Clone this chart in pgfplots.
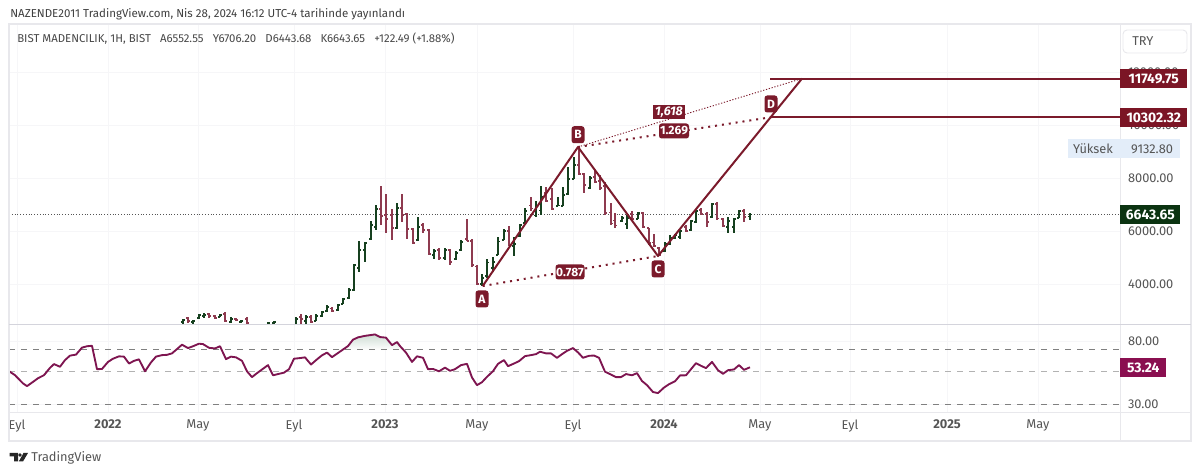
\documentclass[border=0pt]{standalone}
\usepackage{fontspec}
\setmainfont{Fira Sans}
\usepackage{pgfplots}
\usepackage{pgfplotstable}
\pgfplotsset{compat=1.18}
\definecolor{upbar}{HTML}{16401F}
\definecolor{downbar}{HTML}{8E3A4F}
\definecolor{zigzag}{HTML}{7B1A2B}
\definecolor{flagred}{HTML}{7B1525}
\definecolor{flaggreen}{HTML}{0B3311}
\definecolor{rsiline}{HTML}{7E1550}
\definecolor{rsiflag}{HTML}{8A0F50}
\definecolor{gridc}{HTML}{F6F6F8}
\definecolor{framec}{HTML}{E8E8EC}
\definecolor{sepc}{HTML}{D4D4DC}
\definecolor{labelc}{HTML}{555555}
\definecolor{highc}{HTML}{E3EDF9}
\definecolor{rsifill}{HTML}{CFDDD4}

% x is the picture's pixel column, one bar per week
% x high low open close
\pgfplotstableread{
x h l o c
183 2710 2484 2597 2672
193 2672 2522 2597 2634
199 2898 2710 2747 2860
204 2935 2747 2822 2860
220 2898 2785 2785 2860
231 2785 2559 2597 2710
241 2672 2559 2597 2634
268 2597 2371 2484 2559
274 2634 2371 2559 2597
296 2785 2440 2484 2710
306 2860 2484 2634 2785
316 2898 2634 2634 2822
322 3010 2785 2822 2973
327 3236 2973 3010 3160
338 3273 3010 3048 3236
343 3499 3273 3273 3461
349 3876 3461 3499 3800
354 4778 3763 3800 4740
359 5642 4477 4627 5304
365 5605 4853 5304 5567
371 6394 5680 5718 6245
376 6996 6056 6169 6846
397 7071 6094 6131 6883
418 6545 5642 5680 6169
434 5342 4966 5116 5266
445 5379 4928 5003 5304
456 5266 4928 4966 5191
461 5680 5266 5304 5605
482 4402 3950 4026 4250
487 4966 4251 4326 4850
493 5041 4477 4627 4853
498 5793 5116 5116 5630
504 6094 5680 5680 6018
514 5793 5078 5454 5530
520 6282 5793 5830 6244
525 6883 6319 6319 6770
536 7146 6545 6600 6990
541 7711 6620 6800 7297
558 7297 6958 6958 6990
563 7673 6958 6958 7372
568 8425 7372 7411 7974
574 8801 7974 7974 8500
590 8087 7598 7636 8012
622 6582 6357 6394 6507
627 6620 6094 6282 6507
638 6733 6470 6470 6695
665 5605 5229 5266 5530
670 5868 5492 5530 5790
675 5906 5718 5755 5868
680 6056 5718 5793 6018
691 6432 6018 6056 6394
696 6846 6319 6357 6770
712 7071 6507 6545 7034
728 6545 5943 6169 6394
734 6507 5943 6170 6470
739 6808 6507 6507 6770
750 6706.20 6443.68 6552.55 6643.65
}\upbars
\pgfplotstableread{
x h l o c
188 2785 2559 2747 2634
209 2935 2747 2898 2822
215 2860 2710 2822 2747
225 2973 2597 2898 2634
236 2747 2634 2710 2672
247 2785 2440 2710 2559
301 2898 2484 2785 2710
311 2860 2559 2785 2597
332 3160 2973 3120 3010
381 7711 6244 6846 6582
386 7410 5943 6620 6470
392 6846 5680 6620 6131
402 7410 6357 6883 6620
407 6695 5718 6658 6094
413 6131 5530 6094 5567
423 6319 5943 6244 6056
429 6094 5116 6056 5154
439 5379 4928 5304 5003
450 5342 4740 5304 4853
467 6470 5642 5718 5642
472 5718 4665 5642 4740
477 4740 3988 4700 4026
509 6206 5454 6018 5492
531 7297 6770 6990 6850
546 7673 7109 7448 7146
552 7636 6808 7222 6846
579 9177 8124 8500 8162
584 8200 7448 8162 7748
595 8275 7824 8050 7861
600 8124 7560 7898 7636
605 7861 6620 7711 6695
611 7071 6244 6700 6290
615 6695 6131 6400 6230
632 6770 6432 6658 6470
643 6733 6131 6695 6169
649 6131 5492 6131 5568
654 5906 5417 5600 5454
659 5417 5078 5379 5116
686 6244 5981 6169 6018
701 6883 6620 6808 6658
707 6733 6169 6658 6356
717 7109 6432 7034 6480
723 6507 6169 6470 6206
744 6846 6357 6770 6545
}\downbars

\pgfplotsset{
    chart/.style={
        scale only axis,
        anchor=south west,
        width=833.25pt,
        xmin=9, xmax=1120,
        axis line style={draw=none},
        major tick length=0pt,
        grid=major,
        grid style={gridc, line width=.6pt},
        xtick={17,108,198,294,385,477,573,664,760,850,947,1038},
        yticklabel pos=right,
        tick label style={font=\fontsize{9.6}{11}\selectfont, text=labelc},
        yticklabel style={anchor=west, xshift=2.5pt},
    },
    bar part/.style={draw=none, no markers, forget plot,
        error bars/error mark=none,
        error bars/error bar style={draw=#1, line width=.85pt}},
}
% right tick is the close, left tick the open
\newcommand{\ohlc}[2]{
    \addplot[bar part=#1, error bars/y dir=both, error bars/y explicit,
             error bars/x dir=plus, error bars/x fixed=2.2]
        table[x=x, y=c, y error plus expr=\thisrow{h}-\thisrow{c},
              y error minus expr=\thisrow{c}-\thisrow{l}] {#2};
    \addplot[bar part=#1, error bars/x dir=minus, error bars/x fixed=2.2]
        table[x=x, y=o] {#2};
}
\newcommand{\tagnode}[6][rounded corners=2pt]{
    \node[fill=#2, text=white, rounded corners=2pt, inner sep=0pt, minimum width=#5*.75pt, minimum height=#6*.75pt,
          font=\fontsize{9}{10}\selectfont\bfseries, #1] at (#3) {#4};
}
\newcommand{\pricetag}[4]{
    \node[fill=#1, text=white, inner sep=0pt, minimum width=#4*.75pt, minimum height=19*.75pt,
          anchor=west, font=\fontsize{10.4}{11}\selectfont\bfseries] at (1120,#2) {#3};
}

\begin{document}
\begin{tikzpicture}
\useasboundingbox (0,0) rectangle (900pt,355.5pt);

% price pane
\begin{axis}[chart,
    name=price,
    at={(6.75pt,112.5pt)},
    height=225pt,
    ymin=2522, ymax=13802,
    ytick={4000,6000,8000,10000,12000},
    xticklabels={},
    scaled y ticks=false,
    yticklabel style={
        /pgf/number format/assume math mode=true,
        /pgf/number format/fixed,
        /pgf/number format/fixed zerofill,
        /pgf/number format/precision=2,
        /pgf/number format/1000 sep={},
    },
]
\addplot[labelc, line width=.8pt, dash pattern=on .8pt off 1.3pt] coordinates {(9,6643.65) (1120,6643.65)};
\ohlc{upbar}{\upbars}
\ohlc{downbar}{\downbars}
% harmonic pattern
\addplot[zigzag, line width=1.5pt, line join=round] coordinates {
    (482.7,3950) (578,9177) (658,5078) (802,11749.75)
};
\addplot[zigzag, line width=1.5pt] coordinates {(770,11749.75) (1120,11749.75)};
\addplot[zigzag, line width=1.5pt] coordinates {(772,10302.32) (1120,10302.32)};
\addplot[zigzag, line width=1.5pt, dash pattern=on 1.5pt off 3.7pt] coordinates {(482.7,3950) (658,5078)};
\addplot[zigzag, line width=1.5pt, dash pattern=on 1.5pt off 3.7pt] coordinates {(578,9177) (772,10302.32)};
\addplot[zigzag, line width=.7pt, dash pattern=on .9pt off 1.3pt] coordinates {(578,9177) (802,11749.75)};
\end{axis}

% RSI pane, log scale like the source
\begin{axis}[chart,
    at={(6.75pt,46.5pt)},
    height=65.25pt,
    ymode=log,
    ymin=26.5, ymax=103.1,
    ytick={30,80},
    yticklabels={30.00,80.00},
    log basis y=10,
    xticklabels={Eyl,\textbf{2022},May,Eyl,\textbf{2023},May,Eyl,\textbf{2024},May,Eyl,\textbf{2025},May},
    xticklabel style={yshift=-2.5pt},
]
\addplot[draw=none, top color=rsifill, bottom color=white] coordinates {
    (342,69.7) (348,74.2) (353,82.0) (358,85.0) (365,87.0) (375,89.0) (380,85.4)
    (386,84.6) (392,75.3) (397,79.0) (400,74.2) (404,69.7)
} -- cycle;
\addplot[gray, line width=.8pt, dash pattern=on 4.5pt off 4.5pt] coordinates {(9,70) (1120,70)};
\addplot[gray!60, line width=.8pt, dash pattern=on 4.5pt off 4.5pt] coordinates {(9,50) (1120,50)};
\addplot[gray, line width=.8pt, dash pattern=on 4.5pt off 4.5pt] coordinates {(9,30) (1120,30)};
\addplot[rsiline, line width=1.4pt, line join=round] coordinates {
    (9,50.1) (15,47.1) (23,41.4) (27,39.7) (33,42.4) (38,44.9) (44,47.1) (50,52.8) (54,56.0)
    (60,53.7) (65,59.6) (70,63.9) (76,64.9) (82,72.4) (87,74.0) (92,74.5) (97,51.7) (102,51.9)
    (108,57.9) (113,60.9) (119,63.2) (124,62.9) (129,56.5) (134,58.9) (139,60.3) (145,50.0)
    (151,57.5) (156,62.9) (162,64.4) (167,64.7) (172,66.2) (177,70.8) (182,75.8) (188,71.9)
    (193,74.0) (199,77.0) (203,76.5) (209,72.2) (215,71.5) (220,74.0) (226,60.5) (231,62.9)
    (236,62.2) (242,58.9) (247,50.0) (252,45.7) (257,48.6) (268,55.1) (273,47.0) (278,47.9)
    (284,49.0) (289,51.7) (294,60.9) (300,61.5) (305,62.2) (311,55.6) (317,60.3) (322,64.2)
    (327,67.0) (332,62.4) (343,70.3) (348,74.2) (353,82.0) (358,85.0) (365,87.0) (375,89.0)
    (380,85.4) (386,84.6) (392,75.3) (397,79.0) (400,74.2) (406,67.0) (412,57.9) (417,63.2)
    (423,61.8) (428,51.7) (433,51.9) (439,50.0) (445,53.0) (450,50.4) (455,51.7) (461,55.1)
    (467,56.2) (472,45.4) (477,40.3) (482,42.2) (487,45.9) (493,50.1) (498,56.2) (504,59.6)
    (508,54.2) (514,56.5) (519,58.6) (525,63.4) (531,64.4) (536,65.4) (540,67.9) (546,66.2)
    (551,66.2) (557,61.7) (562,65.4) (567,68.9) (573,71.9) (578,67.2) (583,61.8) (589,63.7)
    (594,64.0) (599,61.8) (605,49.7) (610,47.9) (616,45.7) (621,45.7) (626,47.9) (632,47.0)
    (637,48.6) (642,43.0) (647,40.3) (653,36.2) (658,35.6) (664,38.8) (669,40.9) (675,42.8)
    (680,46.9) (686,47.0) (691,51.7) (696,56.8) (701,54.5) (706,52.6) (712,57.9) (718,50.9)
    (723,48.1) (728,50.9) (734,51.5) (739,55.1) (744,51.2) (750,53.24)
};
\end{axis}

% frame, tags and texts in picture pixels
\begin{scope}[x=.75pt, y=-.75pt, shift={(0pt,355.5pt)}]
\draw[framec, line width=.8pt] (9,24) rectangle (1191,441);
\draw[framec, line width=.6pt] (1120,24) -- (1120,441) (9,412) -- (1191,412);
\draw[sepc, line width=.8pt] (9,324.5) -- (1191,324.5);

\node[anchor=west, inner sep=0pt, text=black!75, font=\fontsize{8.65}{11}\selectfont] at (10,14)
    {NAZENDE2011 TradingView.com, Nis 28, 2024 16:12 UTC-4 tarihinde yayınlandı};
\node[anchor=west, inner sep=0pt, text=black!72, font=\fontsize{8.55}{10}\selectfont] at (17,39)
    {BIST MADENCILIK, 1H, BIST\hspace{.8em}A6552.55\hspace{.8em}Y6706.20\hspace{.8em}D6443.68\hspace{.8em}K6643.65\hspace{.8em}+122.49 (+1.88\%)};

\draw[framec, fill=white, rounded corners=3pt, line width=.7pt] (1123,30) rectangle (1187,53);
\node[anchor=west, inner sep=0pt, text=labelc, font=\fontsize{9.6}{11}\selectfont] at (1132,41.5) {TRY};

\fill[highc] (1068,139) rectangle (1180,158);
\node[inner sep=0pt, text=labelc, font=\fontsize{9.6}{11}\selectfont] at (1093,149) {Yüksek};
\node[inner sep=0pt, text=labelc, font=\fontsize{9.6}{11}\selectfont] at (1152,149) {9132.80};

\pricetag{flagred}{79}{11749.75}{67}
\pricetag{flagred}{117.5}{10302.32}{67}
\pricetag{flaggreen}{215}{6643.65}{60}
\pricetag{rsiflag}{368}{53.24}{46}

\tagnode{zigzag}{482,299}{A}{13}{17}
\tagnode{zigzag}{578,134.7}{B}{13}{17}
\tagnode{zigzag}{658,269}{C}{13}{17}
\tagnode{zigzag}{771,104}{D}{13}{17}
\tagnode{zigzag}{570,272}{0.787}{29}{15}
\tagnode{zigzag}{674,131}{1.269}{30}{15}
\tagnode[font=\fontsize{9.4}{10}\selectfont\bfseries\itshape, sharp corners]{zigzag}{669,112}{1,618}{32}{14}

\fill[black!85] (9.5,453) -- (18,453) -- (18,461.5) -- (14,461.5) -- (14,456.5) -- (9.5,456.5) -- cycle;
\fill[black!85] (20,455) circle (1.8);
\fill[black!85] (23.5,453) -- (28,453) -- (23,461.5) -- (18.8,461.5) -- cycle;
\node[anchor=west, inner sep=0pt, text=labelc, font=\fontsize{9.6}{11}\selectfont] at (31,458) {TradingView};
\end{scope}
\end{tikzpicture}
\end{document}
